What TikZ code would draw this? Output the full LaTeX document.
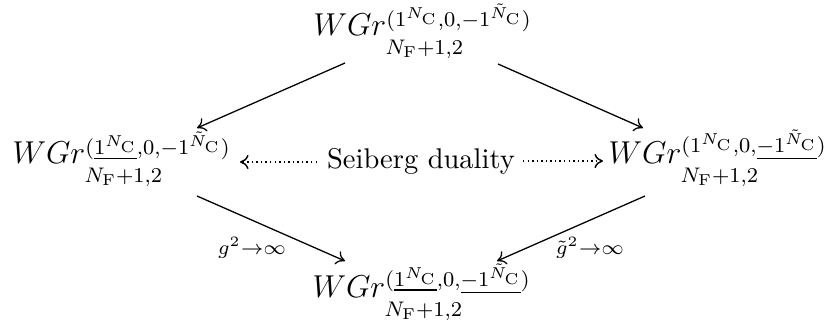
\documentclass[tikz,border=0pt]{standalone}
\usepackage{graphicx}
\usetikzlibrary{calc,arrows.meta}
\newcommand{\myNC}{1^{N_{\mathrm{C}}}}
\newcommand{\myNt}{-1^{\tilde{N}_{\mathrm{C}}}}
\newcommand{\mysupbox}[1]{\raisebox{-2.9pt}[\height][\depth]{$\scriptstyle(#1)$}}
\newcommand{\mysubbox}{\raisebox{-4.4pt}[\height][\depth]{$\scriptstyle N_{\mathrm{F}}+1,2$}}
\newcommand{\myobj}[1]{\scalebox{0.925}{\large$WGr^{\mysupbox{#1}}_{\mysubbox}$}}
\begin{document}
\begin{tikzpicture}[x=0.3509pt,y=-0.3509pt,
  obj/.style={anchor=base west,inner sep=0pt},
  arr/.style={-{To[length=3pt,width=5pt]},line width=0.45pt},
  darr/.style={-{To[length=3pt,width=5pt]},line width=0.5pt,dash pattern=on 0.5pt off 1.1pt},
  lab/.style={inner sep=0pt}]
\useasboundingbox (0,0) rectangle (831,322);
\node[obj] (top) at (313,35) {\myobj{\myNC,0,\myNt}};
\node[obj] (left) at (12,163) {\myobj{\underline{\myNC},0,\myNt}};
\node[obj] (right) at (608,163) {\myobj{\myNC,0,\underline{\myNt}}};
\node[obj] (bot) at (312,297) {\myobj{\underline{\myNC},0,\underline{\myNt}}};
\node[inner sep=0pt] (sd) at (421,161) {Seiberg duality};
\coordinate (sdl) at (317,162);
\coordinate (sdr) at (523,161);
\coordinate (tipl) at (240,162);
\coordinate (tipr) at (603,161);
\draw[darr] (sdl) -- (tipl);
\draw[darr] (sdr) -- (tipr);
\draw[arr] ($(top.base west)+(32,28)$) -- ($(left.base west)+(185,-35)$);
\draw[arr] ($(top.base west)+(185,29)$) -- ($(right.base west)+(35,-35)$);
\draw[arr] ($(left.base west)+(185,33)$) -- ($(bot.base west)+(33,-36)$);
\draw[arr] ($(right.base west)+(37,33)$) -- ($(bot.base west)+(185,-36)$);
\node[lab] (g1) at (252,248) {$\scriptstyle g^2\to\infty$};
\node[lab] (g2) at (590,248) {$\scriptstyle \tilde g^2\to\infty$};
\end{tikzpicture}
\end{document}
